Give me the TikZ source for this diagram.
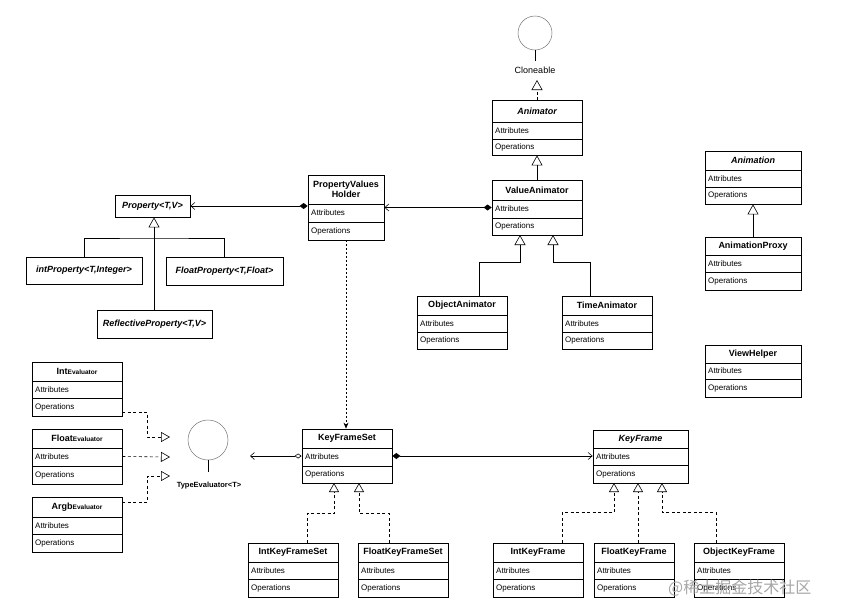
\documentclass[tikz,border=0pt]{standalone}
\usepackage{fontspec}
\setmainfont{Liberation Sans}
\newfontfamily\cjkfont{Noto Sans CJK SC}
\usetikzlibrary{arrows.meta,fit,calc}
\newcommand\umlclass[8]{%
  \node[box, fit={(#2,#3) (#4,#5)}] (#1) {};
  \draw[sep] (#2,#6) -- (#4,#6) (#2,#7) -- (#4,#7);
  \node[ttl] (#1-n) at ({(#2+#4)/2},{(#3+#6)/2}) {#8};
  \node[row] (#1-a) at ({#2+3},{(#6+#7)/2}) {Attributes};
  \node[row] (#1-o) at ({#2+3},{(#7+#5)/2}) {Operations};
}
\newcommand\evname[1]{#1{\fontsize{6.5}{7}\selectfont Evaluator}}
\begin{document}
\begin{tikzpicture}[x=1pt,y=-1pt,
  box/.style={draw, line width=0.8pt, inner sep=0pt},
  sep/.style={line width=0.6pt},
  ttl/.style={font=\fontsize{9}{10}\selectfont\bfseries, inner sep=0pt, align=center},
  ittl/.style={font=\fontsize{9}{10}\selectfont\bfseries\itshape, inner sep=0pt},
  row/.style={font=\fontsize{8}{9}\selectfont, inner sep=0pt, anchor=west},
  conn/.style={line width=0.6pt},
  gen/.style={conn, -{Triangle[open,length=10pt,width=11pt]}},
  real/.style={conn, dash pattern=on 3pt off 2.5pt, -{Triangle[open,length=9pt,width=10pt]}},
  dep/.style={conn, dash pattern=on 2pt off 2pt, -{Stealth[length=6pt,width=5pt]}},
  comp/.style={conn, {Diamond[length=8pt,width=6pt]}-{Straight Barb[length=4pt,width=7pt]}},
  aggr/.style={conn, {Diamond[open,length=7pt,width=5pt]}-{Straight Barb[length=4pt,width=7pt]}},
  iface/.style={circle, draw=black!55, line width=0.5pt, inner sep=0pt},
  lbl/.style={inner sep=0pt}
]
\useasboundingbox (0,0) rectangle (841,616);

% ---------- interfaces ----------
\node[iface, minimum size=34pt] (clone) at (535,33) {};
\draw[conn] (clone.south) -- ++(0,11);
\node[lbl, font=\fontsize{9}{10}\selectfont] (clone-l) at (535,70) {Cloneable};
\coordinate (clone-tip) at (537,80);

\node[iface, minimum size=40pt] (te) at (208,440) {};
\draw[conn] (te.south) -- ++(0,12);
\node[lbl, font=\fontsize{7.5}{8}\selectfont\bfseries] (te-l) at (209,486) {TypeEvaluator<T>};
\coordinate (te-t1) at (170,437);
\coordinate (te-t2) at (170,457);
\coordinate (te-t3) at (170,476);
\coordinate (te-end) at (250,456);

% ---------- classes ----------
\umlclass{ani}{492}{100}{582}{155}{122}{139}{\itshape Animator}
\umlclass{va}{492}{180}{582}{235}{200}{218}{ValueAnimator}
\umlclass{pvh}{308}{175}{384}{240}{204}{222}{PropertyValues\\Holder}
\umlclass{oa}{417}{296}{507}{349}{315}{332}{ObjectAnimator}
\umlclass{ta}{562}{296}{652}{349}{315}{332}{TimeAnimator}
\umlclass{anim}{705}{151}{801}{204}{170}{187}{\itshape Animation}
\umlclass{aprox}{705}{237}{801}{290}{255}{272}{AnimationProxy}
\umlclass{vh}{705}{345}{801}{397}{363}{379}{ViewHelper}
\umlclass{ie}{32}{362}{122}{416}{381}{398}{\evname{Int}}
\umlclass{fe}{32}{429}{122}{484}{448}{466}{\evname{Float}}
\umlclass{ae}{32}{497}{122}{552}{517}{534}{\evname{Argb}}
\umlclass{kfs}{302}{429}{392}{483}{448}{466}{KeyFrameSet}
\umlclass{kf}{593}{430}{688}{483}{448}{465}{\itshape KeyFrame}
\umlclass{iks}{248}{543}{338}{597}{562}{579}{IntKeyFrameSet}
\umlclass{fks}{358}{543}{448}{597}{562}{579}{FloatKeyFrameSet}
\umlclass{ikf}{493}{543}{583}{597}{562}{579}{IntKeyFrame}
\umlclass{fkf}{594}{543}{674}{597}{562}{579}{FloatKeyFrame}
\umlclass{okf}{694}{543}{784}{597}{562}{579}{ObjectKeyFrame}

% ---------- property boxes ----------
\node[box, fit={(115,195) (190,217)}] (prop) {};
\node[ittl] (prop-n) at (prop.center) {Property<T,V>};
\node[box, fit={(26,257) (142,284)}] (intp) {};
\node[ittl] (intp-n) at (intp.center) {intProperty<T,Integer>};
\node[box, fit={(166,257) (283,285)}] (floatp) {};
\node[ittl] (floatp-n) at (floatp.center) {FloatProperty<T,Float>};
\node[box, fit={(97,310) (212,338)}] (reflp) {};
\node[ittl] (reflp-n) at (reflp.center) {ReflectiveProperty<T,V>};

% ---------- tip coordinates ----------
\coordinate (va-t1) at (520,235);
\coordinate (va-t2) at (553,235);
\coordinate (kfs-t1) at (334,483);
\coordinate (kfs-t2) at (359,483);
\coordinate (kf-t1) at (614,483);
\coordinate (kf-t2) at (638,483);
\coordinate (kf-t3) at (662,483);
\coordinate (prop-bar) at (154,238);

% ---------- connectors ----------
\draw[conn, dash pattern=on 3pt off 2pt, -{Triangle[open,length=10pt,width=11pt]}] (ani.north) -- (clone-tip);
\draw[gen] (va.north) -- (ani.south);
\draw[comp] (va.west) -- (pvh.east);
\draw[comp] (pvh.west |- prop.east) -- (prop.east);
\draw[dep] (pvh.south) -- (pvh.south |- kfs.north);

\draw[gen] (reflp.north -| prop-bar) -- (prop-bar |- prop.south);
\draw[conn] (intp.north) |- (prop-bar) -| (floatp.north);

\draw[gen] ([xshift=17pt]oa.north) -- ++(0,-33) -| (va-t1);
\draw[gen] ([xshift=-17pt]ta.north) -- ++(0,-33) -| (va-t2);
\draw[gen] (aprox.north) -- (anim.south);

\draw[real] ([yshift=-23pt]ie.east) -- ++(25,0) |- (te-t1);
\draw[real] (fe.east) -- (te-t2);
\draw[real] ([yshift=22.5pt]ae.east) -- ++(25,0) |- (te-t3);

\draw[aggr] (kfs.west) -- (te-end);
\draw[comp] (kfs.east) -- (kf.west |- kfs.east);

\draw[real] ([xshift=14pt]iks.north) -- ++(0,-29) -| (kfs-t1);
\draw[real] ([xshift=-14pt]fks.north) -- ++(0,-29) -| (kfs-t2);
\draw[real] ([xshift=24pt]ikf.north) -- ++(0,-30) -| (kf-t1);
\draw[real] (fkf.north -| kf-t2) -- (kf-t2);
\draw[real] ([xshift=-23pt]okf.north) -- ++(0,-30) -| (kf-t3);

% ---------- watermark ----------
\node[lbl, anchor=west, text=black!35, font=\cjkfont\fontsize{16}{16}\selectfont] (wm) at (668,588) {@稀土掘金技术社区};
\end{tikzpicture}
\end{document}
